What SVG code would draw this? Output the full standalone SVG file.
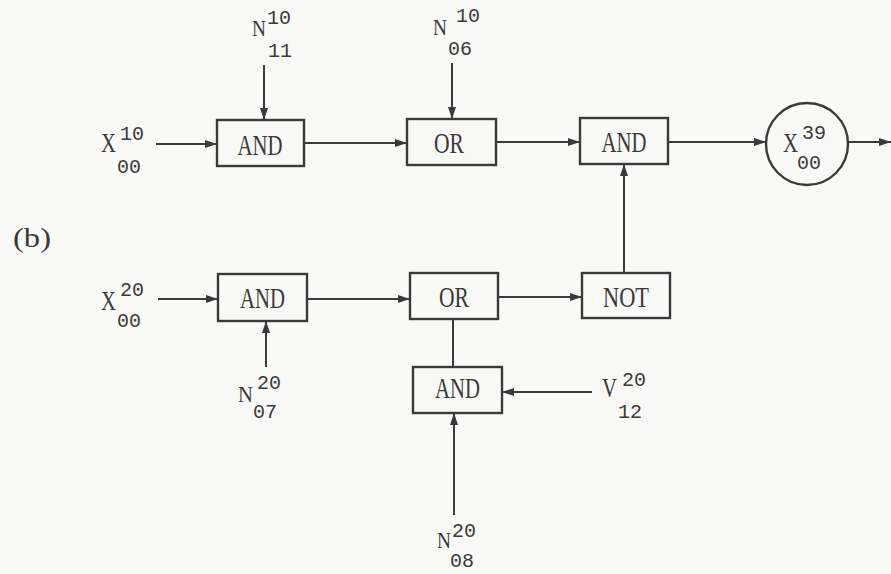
<svg xmlns="http://www.w3.org/2000/svg" width="891" height="574" viewBox="0 0 891 574">
<defs>
<style>
.bg{fill:#f9f9f7}
.box{fill:none;stroke:#3a3a3a;stroke-width:2.4}
.ln{fill:none;stroke:#3a3a3a;stroke-width:2}
.g{font-family:"Liberation Serif",serif;font-size:29px;fill:#3a3a3a;text-anchor:middle}
.L{font-family:"Liberation Serif",serif;font-size:28px;fill:#3a3a3a}
.N{font-family:"Liberation Serif",serif;font-size:24px;fill:#3a3a3a}
.d{font-family:"Liberation Mono",monospace;font-size:20px;fill:#3a3a3a}
</style>
<marker id="ah" markerUnits="userSpaceOnUse" markerWidth="13" markerHeight="9" refX="12" refY="4" orient="auto">
<path d="M0,0 L12,4 L0,8 z" fill="#3a3a3a"/>
</marker>
</defs>
<rect class="bg" x="0" y="0" width="891" height="574"/>

<g id="connectors">
<line class="ln" x1="156" y1="144" x2="217" y2="144" marker-end="url(#ah)"/>
<line class="ln" x1="264" y1="65" x2="264" y2="120" marker-end="url(#ah)"/>
<line class="ln" x1="304" y1="143" x2="407" y2="143" marker-end="url(#ah)"/>
<line class="ln" x1="452" y1="63" x2="452" y2="119" marker-end="url(#ah)"/>
<line class="ln" x1="496" y1="142" x2="580" y2="142" marker-end="url(#ah)"/>
<line class="ln" x1="668" y1="142" x2="766" y2="142" marker-end="url(#ah)"/>
<line class="ln" x1="848" y1="142" x2="891" y2="142" marker-end="url(#ah)"/>
<line class="ln" x1="624" y1="273" x2="624" y2="164" marker-end="url(#ah)"/>
<line class="ln" x1="158" y1="299" x2="218" y2="299" marker-end="url(#ah)"/>
<line class="ln" x1="266" y1="367" x2="266" y2="321" marker-end="url(#ah)"/>
<line class="ln" x1="307" y1="299" x2="410" y2="299" marker-end="url(#ah)"/>
<line class="ln" x1="498" y1="297" x2="582" y2="297" marker-end="url(#ah)"/>
<line class="ln" x1="453" y1="319" x2="453" y2="367"/>
<line class="ln" x1="592" y1="392" x2="502" y2="392" marker-end="url(#ah)"/>
<line class="ln" x1="454" y1="515" x2="454" y2="413" marker-end="url(#ah)"/>
</g>

<g id="and1"><rect class="box" x="217" y="120" width="87" height="46"/><text class="g" x="260" y="155" textLength="45" lengthAdjust="spacingAndGlyphs">AND</text></g>
<g id="or1"><rect class="box" x="407" y="119" width="89" height="46"/><text class="g" x="449" y="153" textLength="30" lengthAdjust="spacingAndGlyphs">OR</text></g>
<g id="and2"><rect class="box" x="580" y="118" width="88" height="46"/><text class="g" x="624" y="152" textLength="45" lengthAdjust="spacingAndGlyphs">AND</text></g>
<g id="out"><circle class="box" cx="807" cy="144" r="41"/>
<text class="L" x="783" y="152" textLength="15" lengthAdjust="spacingAndGlyphs">X</text><text class="d" x="802" y="139">39</text><text class="d" x="797" y="169">00</text></g>
<g id="and3"><rect class="box" x="218" y="274" width="89" height="47"/><text class="g" x="262.5" y="308" textLength="45" lengthAdjust="spacingAndGlyphs">AND</text></g>
<g id="or2"><rect class="box" x="410" y="273" width="88" height="46"/><text class="g" x="454" y="307" textLength="30" lengthAdjust="spacingAndGlyphs">OR</text></g>
<g id="not"><rect class="box" x="582" y="273" width="88" height="45"/><text class="g" x="626" y="307" textLength="46" lengthAdjust="spacingAndGlyphs">NOT</text></g>
<g id="and4"><rect class="box" x="413" y="367" width="89" height="46"/><text class="g" x="457.5" y="398" textLength="45" lengthAdjust="spacingAndGlyphs">AND</text></g>

<g id="x10"><text class="L" x="101" y="152" textLength="15" lengthAdjust="spacingAndGlyphs">X</text><text class="d" x="120" y="140">10</text><text class="d" x="117" y="173">00</text></g>
<g id="n1011"><text class="N" x="252" y="36" textLength="14" lengthAdjust="spacingAndGlyphs">N</text><text class="d" x="267" y="24">10</text><text class="d" x="268" y="57">11</text></g>
<g id="n1006"><text class="N" x="433" y="35" textLength="14" lengthAdjust="spacingAndGlyphs">N</text><text class="d" x="456" y="22">10</text><text class="d" x="448" y="55">06</text></g>
<g id="label-b"><text class="L" x="13" y="247" font-size="24" textLength="38" lengthAdjust="spacingAndGlyphs">(b)</text></g>
<g id="x20"><text class="L" x="101" y="310" textLength="15" lengthAdjust="spacingAndGlyphs">X</text><text class="d" x="120" y="296">20</text><text class="d" x="117" y="327">00</text></g>
<g id="n2007"><text class="N" x="238" y="402" textLength="15" lengthAdjust="spacingAndGlyphs">N</text><text class="d" x="257" y="389">20</text><text class="d" x="253" y="418">07</text></g>
<g id="v2012"><text class="L" x="602" y="397" textLength="15" lengthAdjust="spacingAndGlyphs">V</text><text class="d" x="622" y="386">20</text><text class="d" x="618" y="418">12</text></g>
<g id="n2008"><text class="N" x="437" y="548" textLength="14" lengthAdjust="spacingAndGlyphs">N</text><text class="d" x="452" y="537">20</text><text class="d" x="450" y="567">08</text></g>
</svg>
